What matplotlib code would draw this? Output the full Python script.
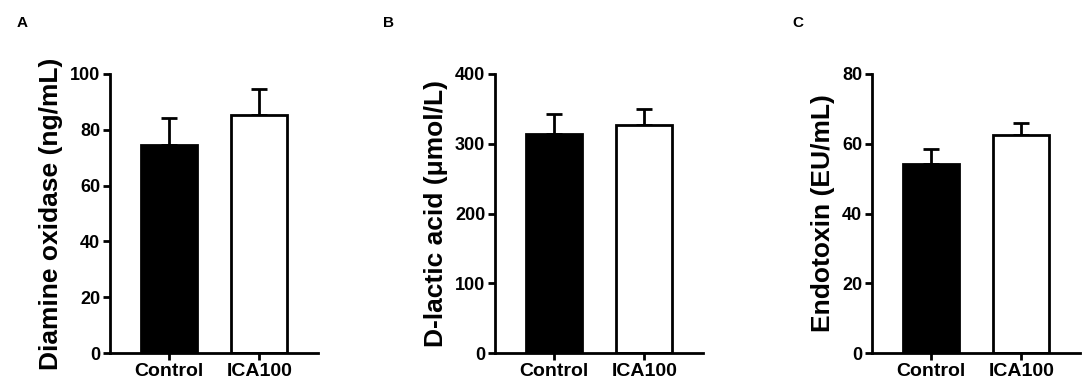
import matplotlib
matplotlib.use("Agg")
import matplotlib.pyplot as plt

plt.rcParams['font.family'] = ['Liberation Sans', 'DejaVu Sans']
plt.rcParams['font.weight'] = 'bold'

groups = ["Control", "ICA100"]
dao_mean = [74.6, 85.3]
dao_err = [9.5, 9.3]
dla_mean = [313.5, 326.9]
dla_err = [28.7, 22.9]
etx_mean = [54.2, 62.5]
etx_err = [4.2, 3.4]

panels = [
    ("A", dao_mean, dao_err, "Diamine oxidase (ng/mL)", 100, [0, 20, 40, 60, 80, 100]),
    ("B", dla_mean, dla_err, "D-lactic acid (μmol/L)", 400, [0, 100, 200, 300, 400]),
    ("C", etx_mean, etx_err, "Endotoxin (EU/mL)", 80, [0, 20, 40, 60, 80]),
]
lefts = [110, 495, 872]
letter_x = [22, 389, 798]
W, H = 1084, 382
fig = plt.figure(figsize=(W / 100, H / 100), dpi=100)
for (letter, means, errs, ylabel, ymax, yt), lp, lx in zip(panels, lefts, letter_x):
    ax = fig.add_axes([lp / W, 1 - 353 / H, 208 / W, (353 - 74) / H])
    x = [0, 1]
    ax.bar(x, means, width=0.62, color=["black", "white"], edgecolor="black",
           linewidth=2, zorder=2)
    ax.errorbar(x, means, yerr=[[0, 0], errs], fmt="none", ecolor="black",
                elinewidth=2, capsize=6, capthick=2, zorder=1)
    ax.set_xlim(-0.65, 1.65)
    ax.set_ylim(0, ymax)
    ax.set_yticks(yt)
    ax.set_xticks(x)
    ax.set_xticklabels(groups, fontsize=14, fontweight='bold')
    ax.tick_params(axis='y', labelsize=13, width=2, length=5, pad=2)
    ax.tick_params(axis='x', width=2, length=5, pad=2)
    for lab in ax.get_yticklabels():
        lab.set_fontweight('bold')
    ax.spines['top'].set_visible(False)
    ax.spines['right'].set_visible(False)
    ax.spines['left'].set_linewidth(2)
    ax.spines['bottom'].set_linewidth(2)
    ax.set_ylabel(ylabel, fontsize=19, fontweight='bold', labelpad=5)
    fig.text(lx / W, 1 - 23 / H, letter, fontsize=11, fontweight='bold',
             ha='center', va='center')

fig.savefig("out.png", dpi=100)
